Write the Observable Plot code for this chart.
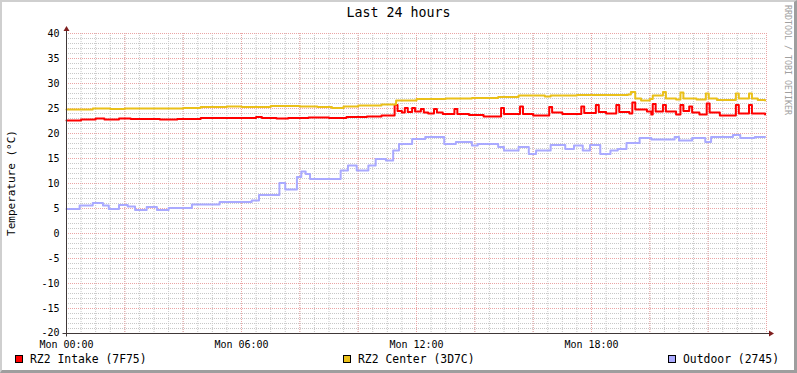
<!DOCTYPE html>
<html>
<head>
<meta charset="utf-8">
<script src="https://cdn.jsdelivr.net/npm/d3@7"></script>
<script src="https://cdn.jsdelivr.net/npm/@observablehq/plot@0.6"></script>
<style>
  body { margin: 0; background: #fff; }
  #wrap { position: relative; width: 797px; height: 373px; background: #fff; overflow: hidden;
          font-family: "DejaVu Sans Mono", monospace; color: #000; }
  #frame { position: absolute; left: 0; top: 0; width: 797px; height: 373px; box-sizing: border-box;
           border-top: 2px solid #cfcfcf; border-left: 2px solid #cfcfcf;
           border-right: 3px solid #9e9e9e; border-bottom: 3px solid #9e9e9e; pointer-events: none; }
  #chart { position: absolute; left: 0; top: 0; }
  .t { position: absolute; white-space: nowrap; }
  #title { left: 0; width: 797px; top: 4px; line-height: 18px; text-align: center; font-size: 13.3px; }
  #ylabel { left: 11px; top: 183px; font-size: 11px; transform: translate(-50%, -50%) rotate(-90deg); }
  #wmark { left: 788px; top: 60px; font-size: 8.3px; color: #a0a0a0; transform: translate(-50%, -50%) rotate(90deg); }
  .sw { position: absolute; top: 355px; width: 8px; height: 8px; box-sizing: border-box; border: 1px solid #000; }
  .lg { position: absolute; top: 352px; line-height: 14px; font-size: 11.4px; white-space: nowrap; }
</style>
</head>
<body>
<div id="wrap">
  <div id="chart"></div>
  <div class="t" id="title">Last 24 hours</div>
  <div class="t" id="ylabel">Temperature (°C)</div>
  <div class="t" id="wmark">RRDTOOL / TOBI OETIKER</div>
  <div id="legend"></div>
  <div id="frame"></div>
</div>
<script>
// ---- data (hours since Mon 00:00, temperature °C) ----
const intakeHours  = [0,0.5,1.0,1.3,1.8,2.2,2.6,3.2,3.8,4.6,5.5,6.5,6.7,7.2,7.6,8.3,9.0,9.6,10.3,10.8,
  11.25,11.35,11.5,11.6,11.7,11.85,11.95,12.15,12.25,12.4,12.6,12.7,12.9,13.3,13.4,13.8,14.3,14.9,15.0,
  15.55,15.65,16.0,16.55,16.65,17.0,17.65,17.75,18.15,18.25,18.5,18.85,18.95,19.3,19.4,19.5,19.9,20.05,
  20.1,20.2,20.45,20.55,20.9,21.05,21.15,21.35,21.45,21.7,21.95,22.05,22.4,22.95,23.05,23.4,23.5,23.95];
const intakeValues = [22.6,22.8,23.0,22.8,23.0,22.9,22.9,22.8,22.9,23.1,23.1,23.3,23.1,23.0,23.1,23.2,23.1,23.3,23.4,23.6,
  25.7,24.5,24.2,25.1,24.3,25.1,24.4,24.9,24.2,24.0,24.9,24.2,23.9,24.9,23.9,23.7,23.4,25.1,23.9,
  25.4,23.9,23.6,25.3,24.2,23.9,25.4,24.1,25.7,24.3,24.0,25.7,24.3,24.0,26.2,24.8,24.4,23.8,
  25.9,24.4,25.7,24.4,23.8,25.7,24.5,25.4,24.2,23.8,26.0,24.2,23.6,25.7,24.0,25.7,24.0,23.8];

const centerHours  = [0,0.9,1.5,2.0,3.0,4.0,4.6,5.5,6.0,7.0,8.0,8.6,9.1,9.5,10.0,10.8,11.3,12.0,13.0,13.9,
  14.8,15.5,16.4,16.6,17.5,18.5,19.25,19.35,19.5,19.7,20.0,20.1,20.45,20.55,20.9,21.05,21.15,21.6,21.92,
  22.02,22.3,22.95,23.05,23.4,23.5,23.7,23.95];
const centerValues = [24.8,25.0,24.9,25.0,25.0,25.1,25.3,25.4,25.3,25.5,25.4,25.3,25.1,25.4,25.6,25.8,26.6,26.9,27.0,27.1,
  27.3,27.6,27.4,27.6,27.7,27.7,27.8,28.3,27.0,26.6,26.9,27.6,28.3,27.0,26.8,28.2,27.0,26.8,28.0,
  27.0,26.7,28.0,27.0,28.0,27.0,26.7,26.6];

const outdoorHours  = [0,0.45,0.9,1.25,1.45,1.8,2.1,2.35,2.75,3.1,3.5,4.3,5.25,6.35,6.6,7.3,7.5,7.9,8.05,8.2,
  8.35,9.4,9.65,9.95,10.35,10.6,10.95,11.2,11.4,11.85,12.3,12.95,13.35,13.9,14.1,14.8,15.0,15.5,15.85,
  16.1,16.6,17.1,17.4,17.7,17.95,18.3,18.65,18.9,19.2,19.65,20.05,20.85,21.0,21.45,21.9,22.1,22.85,
  23.1,23.6,23.95];
const outdoorValues = [4.9,5.6,6.1,5.6,4.9,5.7,5.4,4.7,5.3,4.7,5.1,5.8,6.3,6.6,7.7,10.1,8.8,11.3,12.4,11.9,
  10.9,12.6,13.6,12.6,13.6,14.9,14.6,16.6,17.9,18.9,19.3,17.9,18.3,17.6,17.9,17.3,16.6,17.3,15.9,
  16.6,17.7,16.9,17.6,16.6,17.7,15.9,16.6,16.9,18.1,19.1,18.8,19.3,18.6,19.1,18.3,19.3,19.7,
  19.1,19.3,19.3];

const seriesNames  = ["RZ2 Intake (7F75)", "RZ2 Center (3D7C)", "Outdoor (2745)"];
const seriesColors = ["#ff0000", "#eac01a", "#aaaaff"];
const seriesHours  = [intakeHours, centerHours, outdoorHours];
const seriesValues = [intakeValues, centerValues, outdoorValues];

const xTickHours = [0, 6, 12, 18];
const yTicks = [-20, -15, -10, -5, 0, 5, 10, 15, 20, 25, 30, 35, 40];

// ---- build ----
const base = Date.UTC(2000, 0, 3); // a Monday
const toDate = h => new Date(base + h * 3600000);

const gridMinor = "#c8c8c8", gridMajor = "#eaa5a5", axisColor = "#403838", arrowColor = "#7f1f1f";

const xMinor = d3.range(0, 24.001, 0.5).map(toDate);
const xMajor = d3.range(0, 24.001, 2).map(toDate);
const yMinor = d3.range(-20, 40.001, 1);
const yMajor = d3.range(-20, 40.001, 5);

function axisDecor(index, scales, values, dimensions) {
  const {width, height, marginLeft, marginRight, marginTop, marginBottom} = dimensions;
  const x0 = marginLeft + 0.5, x1 = width - marginRight, yb = height - marginBottom + 0.5, yt = marginTop;
  const g = d3.create("svg:g");
  g.append("line").attr("x1", x0 - 4).attr("x2", x1 + 3).attr("y1", yb).attr("y2", yb).attr("stroke", axisColor);
  g.append("line").attr("x1", x0).attr("x2", x0).attr("y1", yb + 3).attr("y2", yt - 2).attr("stroke", axisColor);
  g.append("path").attr("d", `M${x1 + 3},${yb - 3}L${x1 + 8},${yb}L${x1 + 3},${yb + 3}Z`).attr("fill", arrowColor);
  g.append("path").attr("d", `M${x0 - 3},${yt - 2}L${x0},${yt - 7}L${x0 + 3},${yt - 2}Z`).attr("fill", arrowColor);
  return g.node();
}

const lineMarks = seriesNames.map((name, i) => {
  const rows = seriesHours[i].map((h, j) => ({t: toDate(h), v: seriesValues[i][j]}));
  return Plot.line(rows, {x: "t", y: "v", stroke: seriesColors[i], strokeWidth: 2, curve: "step-after"});
});

const chart = Plot.plot({
  width: 797,
  height: 373,
  marginLeft: 66,
  marginRight: 31,
  marginTop: 33,
  marginBottom: 40,
  style: {fontFamily: "DejaVu Sans Mono, monospace", fontSize: "10px", background: "transparent", color: "#000", overflow: "visible"},
  x: {type: "utc", domain: [toDate(0), toDate(24)], ticks: xTickHours.map(toDate),
      tickFormat: d3.utcFormat("%a %H:%M"), tickSize: 0, tickPadding: 7, label: null},
  y: {domain: [-20, 40], ticks: yTicks, tickFormat: d => String(d), tickSize: 0, tickPadding: 7, label: null},
  marks: [
    Plot.ruleY(yMinor, {stroke: gridMinor, strokeDasharray: "1,1"}),
    Plot.ruleX(xMinor, {stroke: gridMinor, strokeDasharray: "1,1"}),
    Plot.ruleY(yMajor, {stroke: gridMajor, strokeDasharray: "1,1"}),
    Plot.ruleX(xMajor, {stroke: gridMajor, strokeDasharray: "1,1"}),
    ...lineMarks,
    axisDecor
  ]
});
// lift the bottom y tick label a little so it clears the time labels below it
chart.querySelectorAll('[aria-label^="y-axis"] text').forEach(t => {
  if (t.textContent.trim() === String(yTicks[0])) t.setAttribute("dy", "-0.1em");
});
document.getElementById("chart").appendChild(chart);

// legend
const legendLeft = [15, 343, 668];
const legend = document.getElementById("legend");
seriesNames.forEach((name, i) => {
  const sw = document.createElement("div");
  sw.className = "sw";
  sw.style.left = legendLeft[i] + "px";
  sw.style.background = seriesColors[i];
  legend.appendChild(sw);
  const tx = document.createElement("div");
  tx.className = "lg";
  tx.style.left = (legendLeft[i] + 15) + "px";
  tx.textContent = name;
  legend.appendChild(tx);
});
</script>
</body>
</html>
